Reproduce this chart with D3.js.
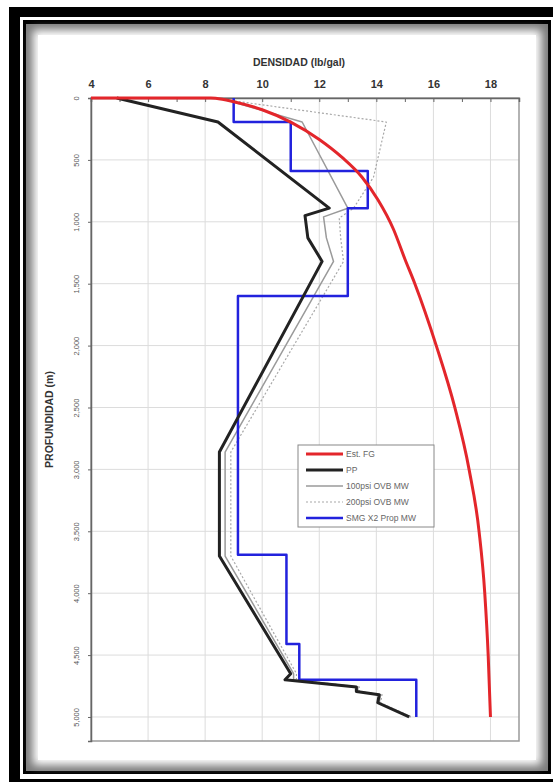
<!DOCTYPE html>
<html>
<head>
<meta charset="utf-8">
<script src="https://cdn.jsdelivr.net/npm/d3@7"></script>
<style>
  html, body { margin: 0; padding: 0; background: #fff; }
  svg { display: block; font-family: "Liberation Sans", Arial, sans-serif; }
</style>
</head>
<body>
<div id="chart"></div>
<script>
// Est. FG (fracture gradient)
const fgDepth = [0, 0, 10, 30, 95, 195, 335, 480, 640, 820, 1060, 1300, 1500, 2000, 2500, 3000, 3500, 4000, 4500, 5000];
const fgVal   = [4, 8.2, 8.6, 9.0, 10.0, 11.0, 12.0, 12.8, 13.5, 14.05, 14.6, 15.0, 15.35, 16.1, 16.75, 17.25, 17.6, 17.8, 17.92, 18.0];

// PP (pore pressure)
const ppDepth = [0, 194, 890, 950, 1130, 1320, 2860, 3700, 4650, 4700, 4757, 4795, 4820, 4885, 5000];
const ppVal   = [4.9, 8.45, 12.35, 11.5, 11.6, 12.1, 8.5, 8.5, 11.0, 10.8, 13.3, 13.3, 14.1, 14.05, 15.15];

// 100psi OVB MW
const mw100Depth = [20, 194, 890, 960, 1130, 1320, 2860, 3700, 4650, 4700, 4757, 4795, 4820, 4885, 5000];
const mw100Val   = [8.8, 11.4, 13.0, 12.15, 12.25, 12.5, 8.7, 8.7, 11.1, 11.1, 13.35, 13.35, 14.15, 14.1, 15.2];

// 200psi OVB MW
const mw200Depth = [20, 194, 640, 890, 970, 1130, 1320, 2860, 3700, 4650, 4700, 4757, 4795, 4820, 4885, 5000];
const mw200Val   = [8.9, 14.35, 13.9, 13.2, 12.7, 12.75, 12.85, 8.9, 8.9, 11.2, 11.2, 13.4, 13.4, 14.2, 14.15, 15.25];

// SMG X2 Prop MW (steps)
const smgDepth = [0, 194, 194, 590, 590, 890, 890, 1600, 1600, 3690, 3690, 4410, 4410, 4700, 4700, 5000];
const smgVal   = [9.0, 9.0, 11.0, 11.0, 13.7, 13.7, 13.0, 13.0, 9.15, 9.15, 10.85, 10.85, 11.3, 11.3, 15.4, 15.4];

const xTicks = [4, 6, 8, 10, 12, 14, 16, 18];
const yTicks = [0, 500, 1000, 1500, 2000, 2500, 3000, 3500, 4000, 4500, 5000];

const seriesNames = ["Est. FG", "PP", "100psi OVB MW", "200psi OVB MW", "SMG X2 Prop MW"];

const W = 553, H = 782;
const margin = {top: 98, right: 34, bottom: 41, left: 91};

const svg = d3.select("#chart").append("svg")
    .attr("width", W)
    .attr("height", H);

// frame
svg.append("rect").attr("x", 9).attr("y", 7).attr("width", 560).attr("height", 790).attr("fill", "#000");
svg.append("rect").attr("x", 20).attr("y", 17).attr("width", 540).attr("height", 762).attr("fill", "#fff");
svg.append("rect").attr("x", 23).attr("y", 20).attr("width", 528).attr("height", 754).attr("fill", "#000");

const defs = svg.append("defs");
defs.append("filter").attr("id", "soft")
    .attr("x", "-10%").attr("y", "-10%").attr("width", "120%").attr("height", "120%")
    .append("feGaussianBlur").attr("stdDeviation", 4);

svg.append("rect").attr("x", 26).attr("y", 24).attr("width", 522).attr("height", 747).attr("fill", "#7c7c7c");
svg.append("rect").attr("x", 33).attr("y", 30).attr("width", 508).attr("height", 735)
    .attr("fill", "#fff").attr("filter", "url(#soft)");
svg.append("rect").attr("x", 38).attr("y", 35).attr("width", 498).attr("height", 725).attr("fill", "#fff");

const x = d3.scaleLinear().domain([4, 19]).range([margin.left, W - margin.right]);
const y = d3.scaleLinear().domain([0, 5194]).range([margin.top, H - margin.bottom]);

const g = svg.append("g");

// grid
g.append("g").selectAll("line").data(xTicks.slice(1)).join("line")
    .attr("x1", d => x(d)).attr("x2", d => x(d))
    .attr("y1", y.range()[0]).attr("y2", y.range()[1])
    .attr("stroke", "#dcdcdc").attr("stroke-width", 1);
g.append("g").selectAll("line").data(yTicks.slice(1)).join("line")
    .attr("x1", x.range()[0]).attr("x2", x.range()[1])
    .attr("y1", d => y(d)).attr("y2", d => y(d))
    .attr("stroke", "#dcdcdc").attr("stroke-width", 1);

// plot border (right/bottom)
g.append("rect")
    .attr("x", x.range()[0]).attr("y", y.range()[0])
    .attr("width", x.range()[1] - x.range()[0])
    .attr("height", y.range()[1] - y.range()[0])
    .attr("fill", "none").attr("stroke", "#9a9a9a").attr("stroke-width", 1.5);

// axes
const xAxis = g.append("g")
    .attr("transform", `translate(0,${margin.top})`)
    .call(d3.axisTop(x).tickValues(d3.range(4, 20, 1)).tickSize(-4).tickPadding(10)
        .tickFormat(d => xTicks.includes(d) ? d : ""));
xAxis.select(".domain").attr("stroke", "#666").attr("stroke-width", 1.5);
xAxis.selectAll(".tick line").attr("stroke", "#666");
xAxis.selectAll("text").attr("font-size", 11).attr("font-weight", "bold").attr("fill", "#333");

const yAxis = g.append("g")
    .attr("transform", `translate(${margin.left},0)`)
    .call(d3.axisLeft(y).tickValues(yTicks).tickSize(3).tickFormat(d3.format(",")));
yAxis.select(".domain").attr("stroke", "#666").attr("stroke-width", 1.5);
yAxis.selectAll(".tick line").attr("stroke", "#666");
yAxis.selectAll("text")
    .attr("font-size", 7.5).attr("fill", "#555")
    .attr("text-anchor", "middle")
    .attr("x", 0).attr("dy", 0)
    .attr("transform", "translate(-14,0) rotate(-90)")
    .attr("dominant-baseline", "middle");

// titles
svg.append("text")
    .attr("x", 299).attr("y", 66)
    .attr("text-anchor", "middle")
    .attr("font-size", 10.5).attr("font-weight", "bold").attr("fill", "#333")
    .text("DENSIDAD  (lb/gal)");
svg.append("text")
    .attr("transform", `translate(53,${(y.range()[0] + y.range()[1]) / 2}) rotate(-90)`)
    .attr("text-anchor", "middle")
    .attr("font-size", 10.5).attr("font-weight", "bold").attr("fill", "#333")
    .text("PROFUNDIDAD  (m)");

// lines
const line = d3.line().x(d => x(d[0])).y(d => y(d[1]));
// FG value grows with depth, so monotone in x keeps it smooth without overshoot
const smooth = d3.line().x(d => x(d[0])).y(d => y(d[1])).curve(d3.curveMonotoneX);
const pts = (vals, depths) => vals.map((v, i) => [v, depths[i]]);

const series = [
    {pts: pts(mw100Val, mw100Depth), color: "#9a9a9a", w: 1.5, dash: null, gen: line},
    {pts: pts(mw200Val, mw200Depth), color: "#a8a8a8", w: 1.2, dash: "2,2", gen: line},
    {pts: pts(smgVal, smgDepth), color: "#2222dd", w: 2.5, dash: null, gen: line},
    {pts: pts(ppVal, ppDepth), color: "#222", w: 3, dash: null, gen: line},
    {pts: pts(fgVal, fgDepth), color: "#e3262b", w: 3, dash: null, gen: smooth}
];

g.append("g").selectAll("path").data(series).join("path")
    .attr("d", d => d.gen(d.pts))
    .attr("fill", "none")
    .attr("stroke", d => d.color)
    .attr("stroke-width", d => d.w)
    .attr("stroke-dasharray", d => d.dash)
    .attr("stroke-linejoin", "round");

// legend
const legendStyle = [
    {color: "#e3262b", w: 3, dash: null},
    {color: "#222", w: 3, dash: null},
    {color: "#9a9a9a", w: 1.5, dash: null},
    {color: "#a8a8a8", w: 1.2, dash: "2,2"},
    {color: "#2222dd", w: 2.5, dash: null}
];
const lg = svg.append("g").attr("transform", "translate(298,445)");
lg.append("rect").attr("width", 136).attr("height", 82)
    .attr("fill", "#fff").attr("stroke", "#888").attr("stroke-width", 1);
const items = lg.selectAll("g").data(seriesNames).join("g")
    .attr("transform", (d, i) => `translate(0,${9 + i * 16})`);
items.append("line")
    .attr("x1", 8).attr("x2", 45)
    .attr("stroke", (d, i) => legendStyle[i].color)
    .attr("stroke-width", (d, i) => legendStyle[i].w)
    .attr("stroke-dasharray", (d, i) => legendStyle[i].dash);
items.append("text")
    .attr("x", 48).attr("dy", "0.35em")
    .attr("font-size", 8.5).attr("fill", "#666")
    .text(d => d);
</script>
</body>
</html>
